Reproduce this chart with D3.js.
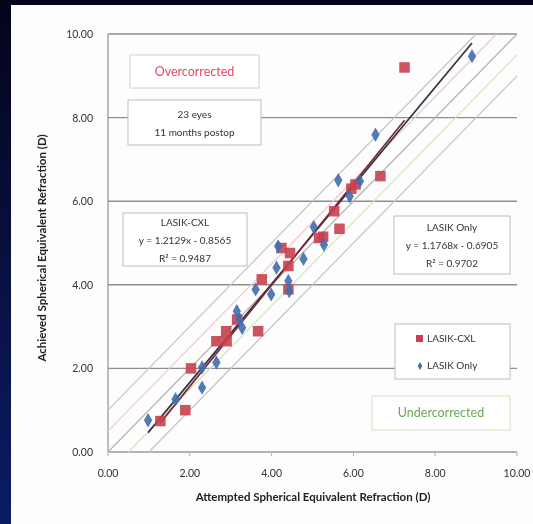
<!DOCTYPE html>
<html>
<head>
<meta charset="utf-8">
<script src="https://cdn.jsdelivr.net/npm/d3@7"></script>
<style>
  body { margin: 0; background: #070a2a; }
  svg { display: block; font-family: Lato, "Liberation Sans", sans-serif; }
</style>
</head>
<body>
<svg width="533" height="524"></svg>
<script>
// LASIK-CXL (red squares): attempted SE, achieved SE
var cxlX = [7.25, 6.66, 5.95, 6.05, 5.53, 5.66, 5.16, 5.26, 4.24, 4.45, 4.41, 4.41, 3.76, 3.67, 3.16, 2.89, 2.65, 2.90, 2.03, 1.89, 1.28];
var cxlY = [9.20, 6.60, 6.30, 6.40, 5.76, 5.34, 5.12, 5.15, 4.88, 4.76, 4.45, 3.89, 4.13, 2.89, 3.17, 2.89, 2.65, 2.65, 2.00, 1.00, 0.74];
// LASIK Only (blue diamonds)
var onlyX = [8.90, 6.54, 5.63, 6.16, 5.91, 5.03, 5.28, 4.78, 4.16, 4.12, 4.41, 3.61, 3.99, 3.15, 3.28, 3.22, 2.65, 2.30, 2.30, 1.65, 0.98, 4.43];
var onlyY = [9.47, 7.59, 6.50, 6.48, 6.12, 5.38, 4.96, 4.62, 4.92, 4.41, 4.09, 3.89, 3.77, 3.37, 2.97, 3.17, 2.14, 2.02, 1.54, 1.26, 0.76, 3.85];
// trend lines: slope, intercept, x range
var cxlFit = {m: 1.2129, b: -0.8565, from: 1.28, to: 7.25};
var onlyFit = {m: 1.1768, b: -0.6905, from: 0.98, to: 8.90};
// reference lines y = x + offset
var refOffsets = [1, 0.5, 0, -0.5, -1];
var refColors = ["#c4c4c4", "#f2c4d0", "#b4b4b4", "#d2e6b4", "#c4c4c4"];
var ticks = [0, 2, 4, 6, 8, 10];

var svg = d3.select("svg");
var defs = svg.append("defs");
var grad = defs.append("linearGradient").attr("id", "bg").attr("x1", 0).attr("y1", 0).attr("x2", 0).attr("y2", 1);
grad.append("stop").attr("offset", "0%").attr("stop-color", "#04041a");
grad.append("stop").attr("offset", "100%").attr("stop-color", "#0b1c66");
defs.append("filter").attr("id", "soft").append("feGaussianBlur").attr("stdDeviation", 0.55);

svg.append("rect").attr("width", 533).attr("height", 524).attr("fill", "url(#bg)");
svg.append("rect").attr("x", 11).attr("y", 5).attr("width", 522).attr("height", 519).attr("fill", "#fdfdfd");

var g = svg.append("g").attr("filter", "url(#soft)");

var x = d3.scaleLinear().domain([0, 10]).range([108, 517]);
var y = d3.scaleLinear().domain([0, 10]).range([452, 34]);

// gridlines
g.append("g").selectAll("line").data(ticks.slice(1)).enter().append("line")
    .attr("x1", x(0)).attr("x2", x(10))
    .attr("y1", function (d) { return y(d); }).attr("y2", function (d) { return y(d); })
    .attr("stroke", "#8e8e8e").attr("stroke-width", 1.4);

// axes lines
g.append("line").attr("x1", x(0)).attr("x2", x(0)).attr("y1", y(0)).attr("y2", y(10))
    .attr("stroke", "#9a9a9a").attr("stroke-width", 1.3);
g.append("line").attr("x1", x(0)).attr("x2", x(10)).attr("y1", y(0)).attr("y2", y(0))
    .attr("stroke", "#9a9a9a").attr("stroke-width", 1.3);
g.append("g").selectAll("line").data(ticks).enter().append("line")
    .attr("x1", function (d) { return x(d); }).attr("x2", function (d) { return x(d); })
    .attr("y1", y(0)).attr("y2", y(0) + 4)
    .attr("stroke", "#b0b0b0");

// tick labels
g.append("g").selectAll("text").data(ticks).enter().append("text")
    .attr("x", 93).attr("y", function (d) { return y(d) + 4; })
    .attr("text-anchor", "end").attr("font-size", 10.5).attr("fill", "#333")
    .text(function (d) { return d.toFixed(2); });
g.append("g").selectAll("text").data(ticks).enter().append("text")
    .attr("x", function (d) { return x(d); }).attr("y", 477)
    .attr("text-anchor", "middle").attr("font-size", 10.5).attr("fill", "#333")
    .text(function (d) { return d.toFixed(2); });

// axis titles
g.append("text").attr("x", 313).attr("y", 501).attr("text-anchor", "middle")
    .attr("font-size", 11.5).attr("font-weight", "bold").attr("fill", "#222")
    .text("Attempted Spherical Equivalent Refraction (D)");
g.append("text").attr("transform", "translate(46,248) rotate(-90)").attr("text-anchor", "middle")
    .attr("font-size", 11.5).attr("font-weight", "bold").attr("fill", "#222")
    .text("Achieved Spherical Equivalent Refraction (D)");

// reference lines clipped to the plot square
g.append("g").selectAll("line").data(refOffsets).enter().append("line")
    .attr("x1", function (d) { return x(Math.max(0, -d)); })
    .attr("y1", function (d) { return y(Math.max(0, d)); })
    .attr("x2", function (d) { return x(Math.min(10, 10 - d)); })
    .attr("y2", function (d) { return y(Math.min(10, 10 + d)); })
    .attr("stroke", function (d, i) { return refColors[i]; })
    .attr("stroke-width", 1.2);

// text boxes
function box(x0, y0, w, h, stroke, lines, color, size) {
    g.append("rect").attr("x", x0).attr("y", y0).attr("width", w).attr("height", h)
        .attr("fill", "#fff").attr("stroke", stroke).attr("stroke-width", 1);
    lines.forEach(function (t, i) {
        g.append("text").attr("x", x0 + w / 2)
            .attr("y", y0 + h / 2 + (i - (lines.length - 1) / 2) * 18 + 4)
            .attr("text-anchor", "middle").attr("font-size", size).attr("fill", color).text(t);
    });
}
box(130, 55, 129, 33, "#d8c8e0", ["Overcorrected"], "#e04a66", 12.5);
box(128, 100, 133, 45, "#bdbdbd", ["23 eyes", "11 months postop"], "#333", 10);
box(123, 213, 124, 53, "#bdbdbd", ["LASIK-CXL", "y = 1.2129x - 0.8565", "R\u00b2 = 0.9487"], "#333", 10);
box(394, 216, 116, 58, "#bdbdbd", ["LASIK Only", "y = 1.1768x - 0.6905", "R\u00b2 = 0.9702"], "#333", 10);
box(372, 396, 138, 34, "#cfe3bd", ["Undercorrected"], "#6aa84f", 12.5);

// trend lines
[onlyFit, cxlFit].forEach(function (f, i) {
    g.append("line")
        .attr("x1", x(f.from)).attr("y1", y(f.m * f.from + f.b))
        .attr("x2", x(f.to)).attr("y2", y(f.m * f.to + f.b))
        .attr("stroke", i === 0 ? "#2e3146" : "#7a2a36").attr("stroke-width", 1.7);
});

// points
var sq = 10.5;
g.append("g").selectAll("rect").data(cxlX).enter().append("rect")
    .attr("x", function (d) { return x(d) - sq / 2; })
    .attr("y", function (d, i) { return y(cxlY[i]) - sq / 2; })
    .attr("width", sq).attr("height", sq)
    .attr("fill", "#c8404e").attr("opacity", 0.9);
var diamond = d3.symbol().type(d3.symbolDiamond).size(60);
g.append("g").selectAll("path").data(onlyX).enter().append("path")
    .attr("d", diamond)
    .attr("transform", function (d, i) { return "translate(" + x(d) + "," + y(onlyY[i]) + ")"; })
    .attr("fill", "#3f6fae").attr("opacity", 0.9);

// legend
box(395, 324, 115, 55, "#bdbdbd", [], "#333", 10);
g.append("rect").attr("x", 416).attr("y", 335).attr("width", 7).attr("height", 7).attr("fill", "#c8404e");
g.append("text").attr("x", 427).attr("y", 342).attr("font-size", 10).attr("fill", "#333").text("LASIK-CXL");
g.append("path").attr("d", d3.symbol().type(d3.symbolDiamond).size(18)).attr("transform", "translate(420,366)").attr("fill", "#3f6fae");
g.append("text").attr("x", 427).attr("y", 369).attr("font-size", 10).attr("fill", "#333").text("LASIK Only");
</script>
</body>
</html>
